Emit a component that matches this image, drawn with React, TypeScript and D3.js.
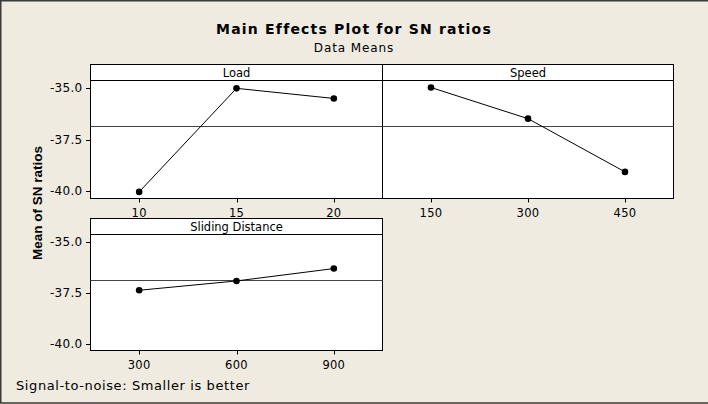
import React from "react";
import * as d3 from "d3";

const loadLevels = ["10", "15", "20"];
const loadMeans = [-40.02, -35.0, -35.49];
const speedLevels = ["150", "300", "450"];
const speedMeans = [-34.96, -36.47, -39.05];
const distLevels = ["300", "600", "900"];
const distMeans = [-37.37, -36.91, -36.3];
const yTicks = [-35.0, -37.5, -40.0];
const yDomain = [-40.34, -34.62];

const W = 708;
const H = 404;
const BG = "#EFEBE1";
const FONT = "'DejaVu Sans', Verdana, sans-serif";

const grandMean = d3.mean([...loadMeans, ...speedMeans, ...distMeans]) as number;

type Panel = {
  name: string;
  levels: string[];
  means: number[];
  x0: number;
  x1: number;
  top: number;
  stripBottom: number;
  bottom: number;
  yAxis: boolean;
};

const panels: Panel[] = [
  { name: "Load", levels: loadLevels, means: loadMeans, x0: 90.5, x1: 382.5, top: 64.5, stripBottom: 80.5, bottom: 198.5, yAxis: true },
  { name: "Speed", levels: speedLevels, means: speedMeans, x0: 382.5, x1: 673.5, top: 64.5, stripBottom: 80.5, bottom: 198.5, yAxis: false },
  { name: "Sliding Distance", levels: distLevels, means: distMeans, x0: 90.5, x1: 382.5, top: 218.5, stripBottom: 234.5, bottom: 350.5, yAxis: true },
];

function PanelView({ p }: { p: Panel }) {
  const x = d3.scalePoint<string>().domain(p.levels).range([p.x0, p.x1]).padding(0.5);
  const y = d3.scaleLinear().domain(yDomain).range([p.bottom, p.stripBottom]);
  const pts = p.levels.map((l, i) => [x(l) as number, y(p.means[i])] as [number, number]);
  const line = d3.line()(pts) as string;
  const ry = Math.round(y(grandMean)) + 0.5;
  return (
    <g>
      <rect x={p.x0} y={p.stripBottom} width={p.x1 - p.x0} height={p.bottom - p.stripBottom} fill="#fff" stroke="#000" strokeWidth={1} />
      <rect x={p.x0} y={p.top} width={p.x1 - p.x0} height={p.stripBottom - p.top} fill="#fff" stroke="#000" strokeWidth={1} />
      <text x={(p.x0 + p.x1) / 2} y={p.stripBottom - 4} textAnchor="middle" fontFamily={FONT} fontSize={11.5} fill="#000">
        {p.name}
      </text>
      <line x1={p.x0} x2={p.x1} y1={ry} y2={ry} stroke="#444" strokeWidth={1} />
      <path d={line} fill="none" stroke="#000" strokeWidth={1} />
      {pts.map((d, i) => (
        <circle key={i} cx={d[0]} cy={d[1]} r={3.3} fill="#000" />
      ))}
      {p.levels.map((l) => (
        <g key={l}>
          <line x1={Math.round(x(l) as number) + 0.5} x2={Math.round(x(l) as number) + 0.5} y1={p.bottom} y2={p.bottom + 4} stroke="#000" />
          <text x={x(l)} y={p.bottom + 18} textAnchor="middle" fontFamily={FONT} fontSize={11.5} letterSpacing={0.3} fill="#000">
            {l}
          </text>
        </g>
      ))}
      {p.yAxis &&
        yTicks.map((t) => (
          <g key={t}>
            <line x1={p.x0 - 4.5} x2={p.x0} y1={Math.round(y(t)) + 0.5} y2={Math.round(y(t)) + 0.5} stroke="#000" />
            <text x={p.x0 - 8} y={y(t) + 4} textAnchor="end" fontFamily={FONT} fontSize={12} letterSpacing={0.3} fill="#000">
              {t.toFixed(1)}
            </text>
          </g>
        ))}
    </g>
  );
}

export default function App() {
  return (
    <svg width={W} height={H} style={{ position: "absolute", left: 0, top: 0, display: "block" }}>
      <rect x={0} y={0} width={W} height={H} fill={BG} />
      <path d={`M${W},0.75 H0.75 V${H - 1} H${W}`} fill="none" stroke="#3a3a3a" strokeWidth={1.5} />
      <text x={354} y={34} textAnchor="middle" fontFamily={FONT} fontWeight="bold" fontSize={14} letterSpacing={1.2} fill="#000">
        Main Effects Plot for SN ratios
      </text>
      <text x={354} y={52} textAnchor="middle" fontFamily={FONT} fontSize={12} letterSpacing={0.9} fill="#000">
        Data Means
      </text>
      <text
        transform="translate(42,203) rotate(-90)"
        textAnchor="middle"
        fontFamily="'Liberation Sans', Arial, sans-serif"
        fontWeight="bold"
        fontSize={13.5}
        fill="#000"
      >
        Mean of SN ratios
      </text>
      {panels.map((p) => (
        <PanelView key={p.name} p={p} />
      ))}
      <text x={16} y={390} fontFamily={FONT} fontSize={13} letterSpacing={0.6} fill="#000">
        Signal-to-noise: Smaller is better
      </text>
    </svg>
  );
}
